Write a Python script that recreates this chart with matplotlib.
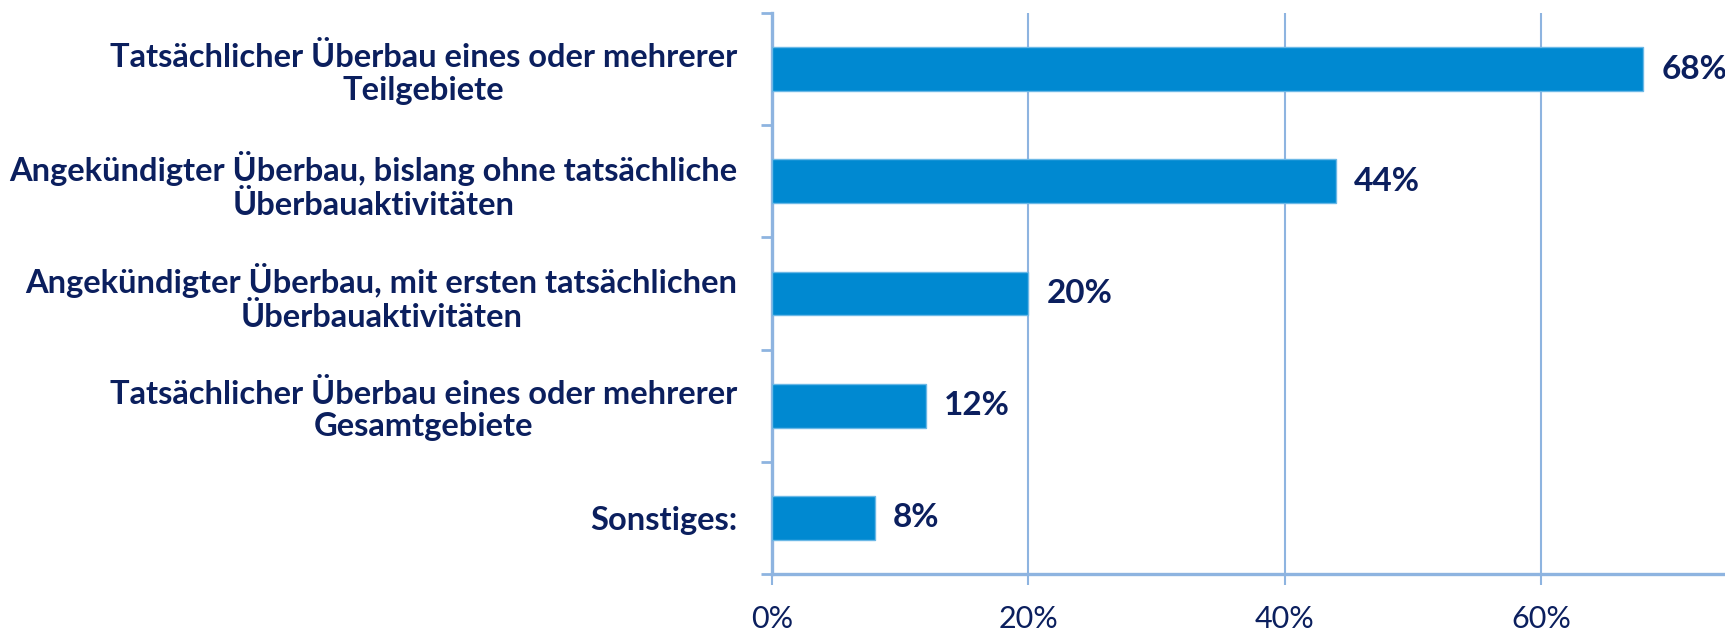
import matplotlib
matplotlib.use("Agg")
import matplotlib.pyplot as plt
from matplotlib.ticker import FixedLocator, PercentFormatter

categories = [
    "Tatsächlicher Überbau eines oder mehrerer\nTeilgebiete",
    "Angekündigter Überbau, bislang ohne tatsächliche\nÜberbauaktivitäten",
    "Angekündigter Überbau, mit ersten tatsächlichen\nÜberbauaktivitäten",
    "Tatsächlicher Überbau eines oder mehrerer\nGesamtgebiete",
    "Sonstiges:",
]
values = [68, 44, 20, 12, 8]
value_labels = ["68%", "44%", "20%", "12%", "8%"]
x_ticks = [0, 20, 40, 60]

NAVY = "#0B1F5E"
BAR = "#0089D1"
BAR_EDGE = "#6BB8E6"
GRID = "#8EB4E0"

plt.rcParams["font.family"] = ["Lato", "DejaVu Sans"]

fig = plt.figure(figsize=(17.25, 6.33), dpi=100)
ax = fig.add_axes([772 / 1725, 59 / 633, 1 - 772 / 1725, (574 - 13) / 633])

ypos = list(range(len(categories)))
ax.barh(ypos, values, height=0.39, color=BAR, edgecolor=BAR_EDGE, linewidth=1.0, zorder=3)

ax.set_xlim(0, 74.37)
ax.set_ylim(len(categories) - 0.5, -0.5)

# grid
ax.xaxis.set_major_locator(FixedLocator(x_ticks))
ax.xaxis.set_major_formatter(PercentFormatter(decimals=0))
ax.grid(axis="x", color=GRID, linewidth=1.5, zorder=1)
ax.set_axisbelow(True)

# y ticks: labels at centres, tick marks at boundaries
ax.set_yticks(ypos)
ax.set_yticklabels(categories)
ax.yaxis.set_minor_locator(FixedLocator([i - 0.5 for i in range(len(categories) + 1)]))
ax.tick_params(axis="y", which="major", length=0, pad=25, labelsize=23.5, labelcolor=NAVY)
ax.tick_params(axis="y", which="minor", length=8, width=2, color=GRID)
for lab in ax.get_yticklabels():
    lab.set_fontweight("bold")
    lab.set_multialignment("center")
    lab.set_linespacing(1.15)

ax.tick_params(axis="x", which="major", length=8, width=1.5, color=GRID, pad=14,
               labelsize=22, labelcolor=NAVY)

for s in ["top", "right"]:
    ax.spines[s].set_visible(False)
for s in ["left", "bottom"]:
    ax.spines[s].set_color(GRID)
    ax.spines[s].set_linewidth(2.4)

for y, v, t in zip(ypos, values, value_labels):
    ax.annotate(t, xy=(v, y), xytext=(13, 0), textcoords="offset points",
                ha="left", va="center", fontsize=24, fontweight="bold", color=NAVY)

fig.savefig("out.png", dpi=100, facecolor="white")
